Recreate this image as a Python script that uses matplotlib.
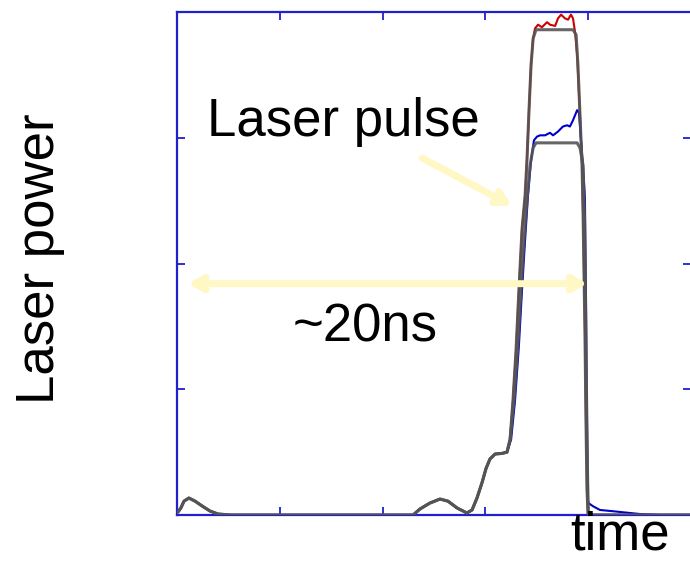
import numpy as np
import matplotlib.pyplot as plt

plt.rcParams['font.family'] = ['Liberation Sans', 'DejaVu Sans']

# time in ns, power in arbitrary units
t_low = [0.0, 0.05, 0.19, 0.34, 0.58, 0.88, 1.22, 1.6, 1.99, 2.58, 11.09, 11.48, 11.82, 12.3,
         12.79, 13.18, 13.62, 14.1, 14.35, 14.59, 14.84, 15.03, 15.22, 15.47, 15.81, 16.05]
p_low = [0.02, 0.024, 0.056, 0.11, 0.135, 0.11, 0.072, 0.032, 0.008, 0.0, 0.0, 0.0, 0.048, 0.095,
         0.127, 0.11, 0.056, 0.016, 0.04, 0.135, 0.26, 0.37, 0.445, 0.485, 0.49, 0.5]

# model pulse for the high shot (grey, upper)
t_model_hi = [16.2, 16.34, 16.49, 16.63, 16.78, 16.93, 17.02, 17.12, 17.22, 17.32, 17.46,
              19.26, 19.41, 19.5, 19.6, 19.7, 19.75, 19.84, 19.89, 19.94, 19.99, 20.04, 25.0]
p_model_hi = [0.6, 0.91, 1.31, 1.79, 2.27, 2.54, 2.82, 3.22, 3.58, 3.79, 3.86,
              3.86, 3.82, 3.58, 3.18, 2.78, 2.39, 1.47, 0.76, 0.2, 0.01, 0.0, 0.0]

# model pulse for the low shot (grey, lower)
t_model_lo = [16.2, 16.39, 16.58, 16.73, 16.88, 17.02, 17.17, 17.32, 17.46, 19.46, 19.6,
              19.75, 19.82, 19.87, 19.92, 19.97, 20.01, 20.06, 25.0]
p_model_lo = [0.6, 0.91, 1.35, 1.79, 2.19, 2.5, 2.78, 2.92, 2.96, 2.96, 2.92,
              2.78, 2.35, 1.71, 0.91, 0.28, 0.01, 0.0, 0.0]

# measured, high shot (red)
t_red = [16.2, 16.34, 16.49, 16.63, 16.78, 16.93, 17.02, 17.12, 17.22, 17.32, 17.41, 17.56,
         17.75, 18.0, 18.14, 18.39, 18.53, 18.68, 18.87, 19.02, 19.16, 19.26, 19.36, 19.46,
         19.6, 19.7, 19.75, 19.84, 19.89, 19.94, 19.99, 20.04, 25.0]
p_red = [0.6, 0.91, 1.31, 1.79, 2.27, 2.54, 2.82, 3.22, 3.58, 3.79, 3.87, 3.9,
         3.88, 3.92, 3.9, 3.89, 3.95, 3.98, 3.95, 3.94, 3.98, 3.95, 3.84, 3.66,
         3.18, 2.78, 2.39, 1.47, 0.76, 0.2, 0.01, 0.0, 0.0]

# measured, low shot (blue)
t_blue = [16.25, 16.44, 16.63, 16.78, 16.93, 17.07, 17.22, 17.36, 17.51, 17.66, 17.9, 18.14,
          18.29, 18.53, 18.77, 18.97, 19.11, 19.26, 19.46, 19.55, 19.65, 19.75, 19.84, 19.89,
          19.94, 19.99, 20.01, 20.23, 20.57, 21.2, 22.03, 22.5, 23.5, 25.0]
p_blue = [0.6, 0.91, 1.35, 1.79, 2.19, 2.54, 2.82, 2.98, 3.01, 3.02, 3.02, 3.04,
          3.02, 3.05, 3.09, 3.1, 3.09, 3.14, 3.22, 3.2, 2.98, 2.77, 2.52, 1.71,
          0.76, 0.12, 0.095, 0.07, 0.04, 0.03, 0.016, 0.008, 0.0, 0.0]

yellow = '#fff7c4'
frame = '#2020d0'

fig = plt.figure(figsize=(6.9, 5.61), dpi=100)
ax = fig.add_axes([0.2565, 0.082, 0.745, 0.8964])

ax.plot(t_low + t_red, p_low + p_red, color='#cc0000', lw=1.5, zorder=2)
ax.plot(t_low + t_blue, p_low + p_blue, color='#0000cc', lw=1.5, zorder=2)
ax.plot(t_low + t_model_hi, p_low + p_model_hi, color='#555555', lw=2.2, alpha=0.9, zorder=3)
ax.plot(t_low + t_model_lo, p_low + p_model_lo, color='#555555', lw=2.2, alpha=0.9, zorder=3)

ax.set_xlim(0, 25)
ax.set_ylim(0, 4)
ax.set_xticks([5, 10, 15, 20])
ax.set_yticks([1, 2, 3])
ax.tick_params(direction='in', length=6, width=1.3, color=frame,
               top=True, right=True, labelbottom=False, labelleft=False)
for s in ax.spines.values():
    s.set_color(frame)
    s.set_linewidth(1.6)

# annotations
ax.annotate('', xy=(0.4, 1.84), xytext=(20.1, 1.84),
            arrowprops=dict(arrowstyle='<->, head_length=0.8, head_width=0.45',
                            color=yellow, lw=5, capstyle='round', joinstyle='round'),
            zorder=4)
ax.annotate('', xy=(16.4, 2.45), xytext=(11.8, 2.85),
            arrowprops=dict(arrowstyle='->, head_length=0.8, head_width=0.45',
                            color=yellow, lw=5, capstyle='round', joinstyle='round'),
            zorder=4)

fig.text(343 / 690, 1 - 122 / 561, 'Laser pulse', fontsize=38, ha='center', va='center')
fig.text(365 / 690, 1 - 328 / 561, '~20ns', fontsize=38, ha='center', va='center')
fig.text(620 / 690, 1 - 536 / 561, 'time', fontsize=38, ha='center', va='center')
fig.text(40 / 690, 1 - 259 / 561, 'Laser power', fontsize=38, ha='center', va='center',
         rotation=90)

fig.savefig('out.png', dpi=100)
